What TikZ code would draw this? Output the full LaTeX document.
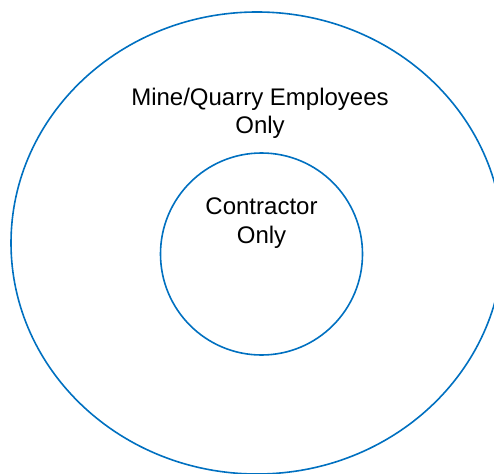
\documentclass[tikz,border=0pt]{standalone}
\usepackage{fontspec}
\setmainfont{Liberation Sans}
\usetikzlibrary{shapes.geometric}
\definecolor{ringblue}{HTML}{0070C0}
\begin{document}
\begin{tikzpicture}[x=1pt,y=1pt,
    ring/.style={draw=ringblue,line width=1.6pt,inner sep=0pt},
    label/.style={align=center,font=\fontsize{24}{28.5}\selectfont,inner sep=0pt,anchor=base}]
  \useasboundingbox (0,0) rectangle (494,-473);
  \clip (0,0) rectangle (494,-473);
  % outer ring, cut by the page on the right and at the bottom
  \node[ring,ellipse,minimum width=492,minimum height=462] (outer) at (257,-243) {};
  % inner ring
  \node[ring,circle,minimum size=202] (inner) at (261.5,-254) {};
  % labels, placed by the baseline of their last line
  \node[label] (outerlbl) at (260,-134) {Mine/Quarry Employees\\Only};
  \node[label] (innerlbl) at (261.5,-243) {Contractor\\Only};
\end{tikzpicture}
\end{document}
